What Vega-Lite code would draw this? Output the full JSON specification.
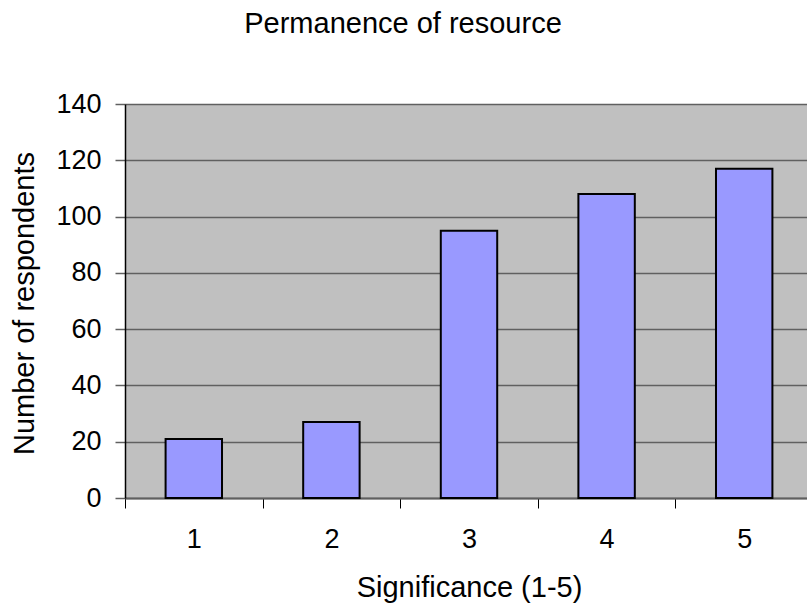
{
  "$schema": "https://vega.github.io/schema/vega-lite/v6.json",
  "autosize": {"type": "none"},
  "width": 682,
  "height": 394,
  "padding": {"left": 125, "top": 104, "right": 0, "bottom": 115},
  "background": "white",
  "title": {
    "text": "Permanence of resource",
    "font": "Liberation Sans",
    "fontSize": 29,
    "fontWeight": "normal",
    "color": "black",
    "anchor": "middle",
    "baseline": "alphabetic",
    "offset": 28,
    "dx": -63
  },
  "data": {
    "values": [
      {"significance": "1", "respondents": 21},
      {"significance": "2", "respondents": 27},
      {"significance": "3", "respondents": 95},
      {"significance": "4", "respondents": 108},
      {"significance": "5", "respondents": 117}
    ]
  },
  "mark": {
    "type": "bar",
    "fill": "#9999FF",
    "stroke": "black",
    "strokeWidth": 2,
    "width": {"band": 0.41}
  },
  "encoding": {
    "x": {
      "field": "significance",
      "type": "ordinal",
      "sort": null,
      "scale": {"type": "band", "range": [0, 688], "paddingInner": 0, "paddingOuter": 0},
      "axis": {
        "title": "Significance (1-5)",
        "labelAngle": 0,
        "tickBand": "extent",
        "tickSize": 10,
        "tickColor": "black",
        "tickWidth": 1,
        "domainColor": "#606060",
        "domainWidth": 2,
        "labelFont": "Liberation Sans",
        "labelFontSize": 27,
        "labelColor": "black",
        "labelPadding": 18,
        "titleFont": "Liberation Sans",
        "titleFontSize": 29,
        "titleFontWeight": "normal",
        "titleColor": "black",
        "titlePadding": 21,
        "grid": false
      }
    },
    "y": {
      "field": "respondents",
      "type": "quantitative",
      "scale": {"domain": [0, 140], "nice": false},
      "axis": {
        "title": "Number of respondents",
        "values": [0, 20, 40, 60, 80, 100, 120, 140],
        "tickSize": 10,
        "tickColor": "#606060",
        "tickWidth": 1.5,
        "domainColor": "black",
        "domainWidth": 1.5,
        "gridColor": "#606060",
        "gridWidth": 1.5,
        "grid": true,
        "labelFont": "Liberation Sans",
        "labelFontSize": 27,
        "labelColor": "black",
        "labelPadding": 14,
        "titleFont": "Liberation Sans",
        "titleFontSize": 29,
        "titleFontWeight": "normal",
        "titleColor": "black",
        "titleAngle": -90,
        "titleAlign": "center",
        "titleBaseline": "alphabetic",
        "titleX": -92,
        "titleY": 199
      }
    }
  },
  "config": {
    "view": {"fill": "#C0C0C0", "stroke": null}
  }
}
